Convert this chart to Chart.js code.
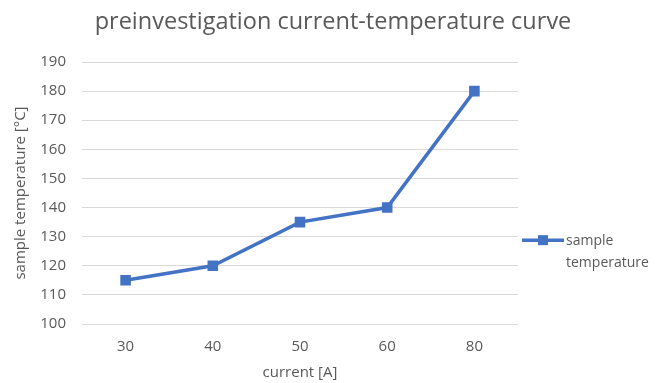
<!DOCTYPE html>
<html>
<head>
<meta charset="utf-8">
<script src="https://cdn.jsdelivr.net/npm/chart.js@4"></script>
<style>
  html, body { margin: 0; padding: 0; background: #fff; }
  #wrap { width: 656px; height: 383px; }
</style>
</head>
<body>
<div id="wrap"><canvas id="tempChart"></canvas></div>
<script>
const currents = ['30', '40', '50', '60', '80'];
const sampleTemps = [115, 120, 135, 140, 180];
const seriesName = 'sample temperature';
const chartTitle = 'preinvestigation current-temperature curve';

const textColor = '#595959';
const lineColor = '#4472C4';
Chart.defaults.font.family = '"Open Sans", sans-serif';
Chart.defaults.color = textColor;

// title centred on the whole canvas, and a legend whose label wraps onto two lines
const decorations = {
  id: 'decorations',
  afterDraw: (chart) => {
    const { ctx, chartArea, width } = chart;
    const ds = chart.data.datasets[0];
    ctx.save();
    ctx.fillStyle = textColor;
    ctx.font = '23.5px "Open Sans", sans-serif';
    ctx.textAlign = 'center';
    ctx.textBaseline = 'middle';
    ctx.fillText(chartTitle, width / 2 + 5, 22);

    const x = chartArea.right + 4;
    const y = chartArea.top + (chartArea.bottom - chartArea.top) * 0.68;
    ctx.strokeStyle = ds.borderColor;
    ctx.lineWidth = 3.5;
    ctx.beginPath();
    ctx.moveTo(x, y);
    ctx.lineTo(x + 42, y);
    ctx.stroke();
    ctx.fillStyle = ds.borderColor;
    ctx.fillRect(x + 16, y - 5, 10, 10);
    ctx.fillStyle = textColor;
    ctx.font = '14px "Open Sans", sans-serif';
    ctx.textAlign = 'left';
    const words = ds.label.split(' ');
    ctx.fillText(words[0], x + 44, y + 1);
    ctx.fillText(words[1], x + 44, y + 23);
    ctx.restore();
  }
};

new Chart(document.getElementById('tempChart'), {
  type: 'line',
  data: {
    labels: currents,
    datasets: [{
      label: seriesName,
      data: sampleTemps,
      borderColor: lineColor,
      backgroundColor: lineColor,
      borderWidth: 3.5,
      pointStyle: 'rect',
      pointRadius: 5,
      pointHoverRadius: 5,
      tension: 0
    }]
  },
  options: {
    responsive: true,
    maintainAspectRatio: false,
    animation: false,
    layout: {
      padding: { top: 62, right: 138, bottom: 1, left: 8 }
    },
    plugins: {
      legend: { display: false },
      tooltip: { enabled: false },
      title: { display: false }
    },
    scales: {
      x: {
        offset: true,
        grid: { display: false },
        border: { display: false },
        afterFit: (scale) => { scale.height = 58; },
        ticks: { color: textColor, font: { size: 15 }, padding: 6 },
        title: {
          display: true,
          text: 'current [A]',
          color: textColor,
          font: { size: 15 },
          padding: { top: 0, bottom: 0 }
        }
      },
      y: {
        min: 100,
        max: 190,
        grid: { color: '#d9d9d9', drawTicks: false, lineWidth: 1 },
        border: { display: false },
        afterFit: (scale) => { scale.width = 74; },
        ticks: { stepSize: 10, color: textColor, font: { size: 15 }, padding: 16 },
        title: {
          display: true,
          text: 'sample temperature [°C]',
          color: textColor,
          font: { size: 15 },
          padding: { bottom: 2 }
        }
      }
    }
  },
  plugins: [decorations]
});
</script>
</body>
</html>
